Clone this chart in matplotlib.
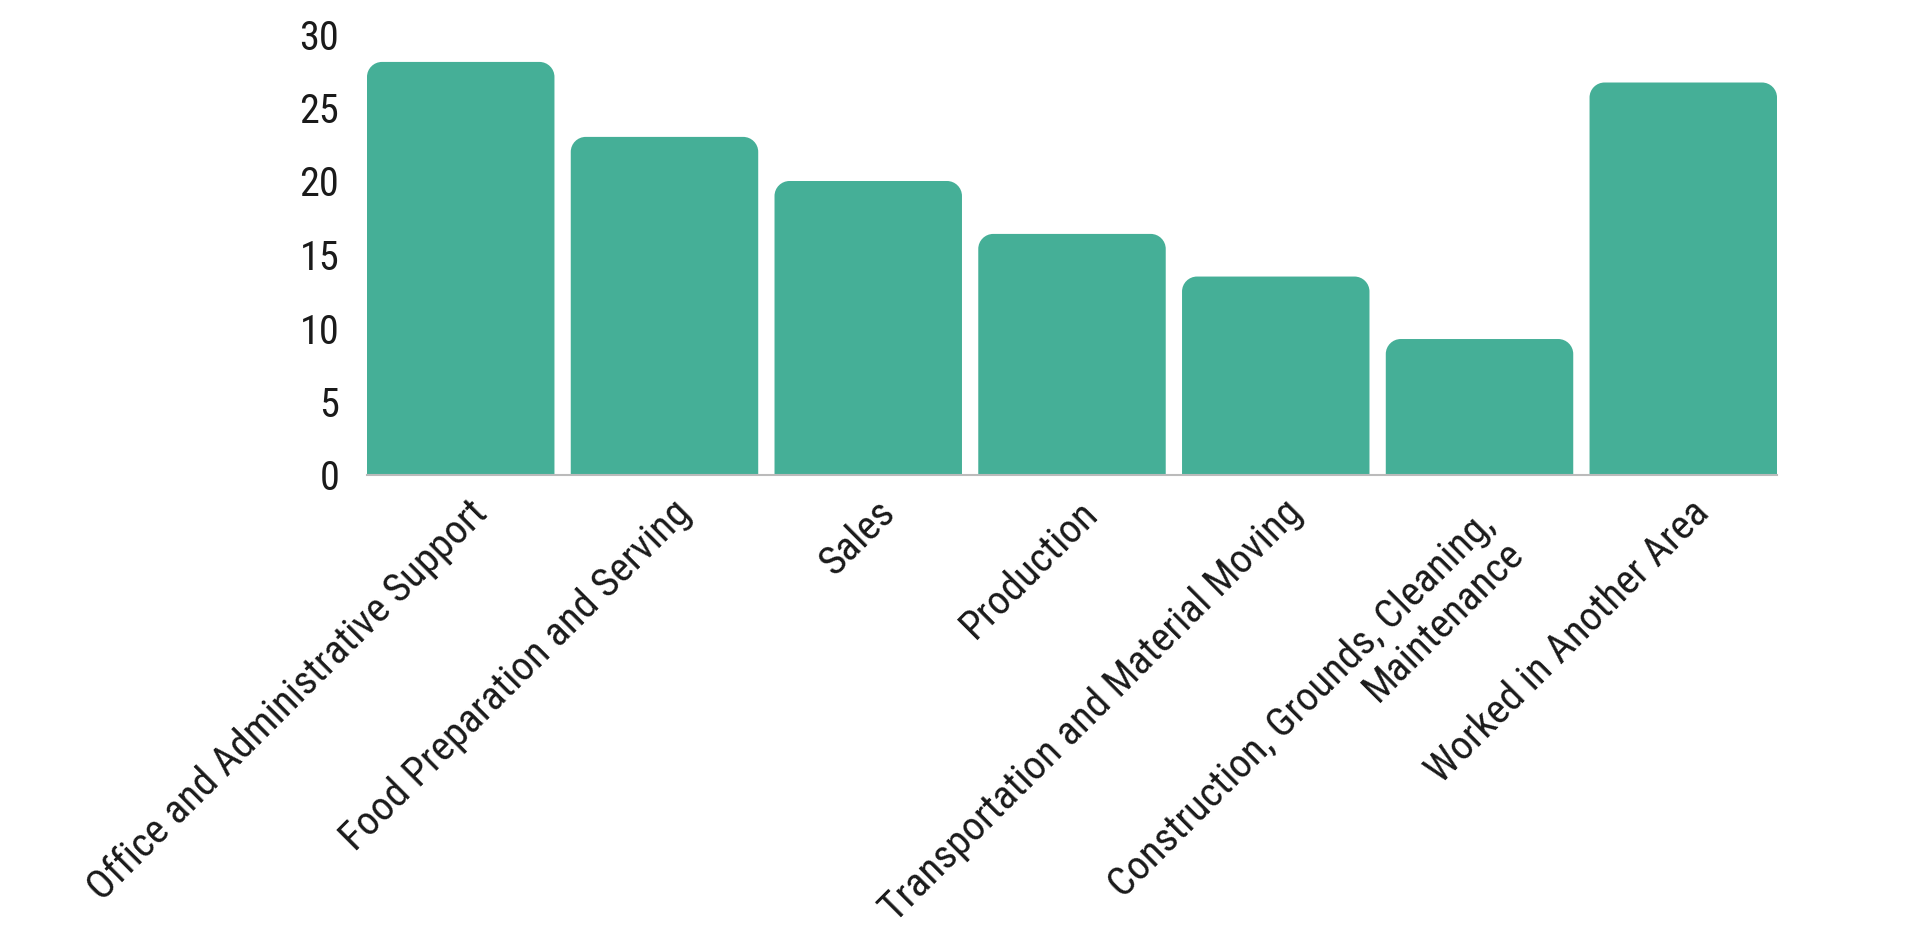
import matplotlib
matplotlib.use("Agg")
import matplotlib.pyplot as plt
import matplotlib.transforms as mtransforms
from matplotlib.path import Path
from matplotlib.patches import PathPatch

plt.rcParams['font.family'] = ['Roboto Condensed', 'Liberation Sans Narrow', 'Roboto', 'DejaVu Sans']

# data
categories = [
    "Office and Administrative Support",
    "Food Preparation and Serving",
    "Sales",
    "Production",
    "Transportation and Material Moving",
    "Construction, Grounds, Cleaning,\nMaintenance",
    "Worked in Another Area",
]
values = [28.1, 23.0, 20.0, 16.4, 13.5, 9.25, 26.7]
yticks = [0, 5, 10, 15, 20, 25, 30]

bar_color = "#45AF97"
W, H, DPI = 1920, 925, 100

fig = plt.figure(figsize=(W / DPI, H / DPI), dpi=DPI)
ax_left, ax_right, ax_bottom, ax_top = 367, 1777, 475, 34  # pixels
ax = fig.add_axes([ax_left / W, 1 - ax_bottom / H, (ax_right - ax_left) / W, (ax_bottom - ax_top) / H])

width = 0.92
x = list(range(len(categories)))
bars = ax.bar(x, values, width=width, color=bar_color)
ax.set_xlim(-width / 2, len(categories) - 1 + width / 2)
ax.set_ylim(0, 30)

# rounded top corners, radius given in pixels
r_px = 15
xr = (ax.get_xlim()[1] - ax.get_xlim()[0]) / (ax_right - ax_left)
yr = (ax.get_ylim()[1] - ax.get_ylim()[0]) / (ax_bottom - ax_top)
rx, ry = r_px * xr, r_px * yr
k = 0.5523
for b in bars:
    x0 = b.get_x()
    x1 = x0 + b.get_width()
    h = b.get_height()
    verts = [
        (x0, 0), (x0, h - ry),
        (x0, h - ry + k * ry), (x0 + rx - k * rx, h), (x0 + rx, h),
        (x1 - rx, h),
        (x1 - rx + k * rx, h), (x1, h - ry + k * ry), (x1, h - ry),
        (x1, 0), (x0, 0),
    ]
    codes = [Path.MOVETO, Path.LINETO,
             Path.CURVE4, Path.CURVE4, Path.CURVE4,
             Path.LINETO,
             Path.CURVE4, Path.CURVE4, Path.CURVE4,
             Path.LINETO, Path.CLOSEPOLY]
    ax.add_patch(PathPatch(Path(verts, codes), facecolor=bar_color, edgecolor="none", zorder=2))
    b.set_visible(False)

for s in ["top", "right", "left"]:
    ax.spines[s].set_visible(False)
ax.spines["bottom"].set_color("#BBBBBB")
ax.spines["bottom"].set_linewidth(1.5)
ax.spines["bottom"].set_zorder(3)

ax.set_yticks(yticks)
ax.set_yticklabels([str(t) for t in yticks], fontsize=29, color="#1a1a1a")
ax.tick_params(axis="y", length=0, pad=20)
ax.tick_params(axis="x", length=0, pad=6)
ax.set_xticks(x)
labels = ax.set_xticklabels(categories, rotation=45, ha="right", rotation_mode="anchor",
                            fontsize=29.5, color="#1a1a1a", va="top", linespacing=1.08)
# nudge labels a little right and down (two-line label sits a bit lower-left)
for i, lab in enumerate(labels):
    dx, dy = (4.5, -7) if i != 5 else (-3.5, -15)
    offset = mtransforms.ScaledTranslation(dx / 72, dy / 72, fig.dpi_scale_trans)
    lab.set_transform(lab.get_transform() + offset)

fig.savefig("out.png", dpi=DPI, facecolor="white")
